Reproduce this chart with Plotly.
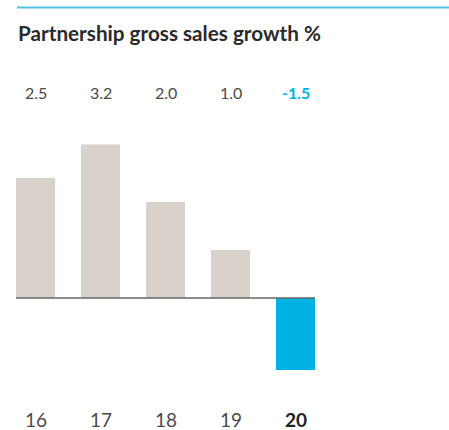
import plotly.graph_objects as go

categories = ["16", "17", "18", "19", "20"]
values = [2.5, 3.2, 2.0, 1.0, -1.5]
value_labels = ["2.5", "3.2", "2.0", "1.0", "-1.5"]
title_text = "Partnership gross sales growth %"

GREY = "#D8D2CB"
BLUE = "#00B1E4"
TEXT = "#4A4A4A"

colors = [BLUE if v < 0 else GREY for v in values]
xs = list(range(len(categories)))
BW = 0.6

W, H = 449, 430

fig = go.Figure()
fig.add_trace(go.Bar(x=xs, y=values, width=BW, marker=dict(color=colors, line=dict(width=0)),
                     hoverinfo="skip"))

pxu_x = 65.0
pxu_y = 48.0
x0 = -35.5 / pxu_x
x1 = x0 + W / pxu_x
y1 = 298 / pxu_y
y0 = -(H - 298) / pxu_y


def py(y):
    return 1 - y / H


def px(x):
    return x / W


fig.update_layout(
    width=W, height=H,
    margin=dict(l=0, r=0, t=0, b=0),
    paper_bgcolor="white", plot_bgcolor="white",
    showlegend=False,
    xaxis=dict(range=[x0, x1], visible=False, fixedrange=True),
    yaxis=dict(range=[y0, y1], visible=False, fixedrange=True),
    font=dict(family="Lato", color=TEXT),
)

# zero line
fig.add_shape(type="line", xref="x", yref="y", x0=-BW / 2, x1=len(categories) - 1 + BW / 2,
              y0=0, y1=0, line=dict(color="#666666", width=1.5))
# top rule
fig.add_shape(type="line", xref="paper", yref="paper", x0=px(17), x1=1, y0=py(7.5), y1=py(7.5),
              line=dict(color="#4EC3E6", width=2))

fig.add_annotation(text="<b>" + title_text + "</b>", xref="paper", yref="paper",
                   x=px(16), y=py(33), xanchor="left", yanchor="middle", showarrow=False,
                   font=dict(size=20.7, color="#2B2B2B", family="Lato"))

for i, (c, lab, v) in enumerate(zip(categories, value_labels, values)):
    last = i == len(categories) - 1
    fig.add_annotation(text=("<b>" + lab + "</b>") if last else lab, x=i, xref="x",
                       yref="paper", y=py(92), yanchor="middle", showarrow=False,
                       font=dict(size=16, color=BLUE if v < 0 else TEXT, family="Lato"))
    fig.add_annotation(text=("<b>" + c + "</b>") if last else c, x=i, xref="x",
                       yref="paper", y=py(419), yanchor="middle", showarrow=False,
                       font=dict(size=19, color="#222222" if last else TEXT, family="Lato"))

fig.write_html("out.html", config={"displayModeBar": False},
               post_script="document.body.style.margin='0';")
